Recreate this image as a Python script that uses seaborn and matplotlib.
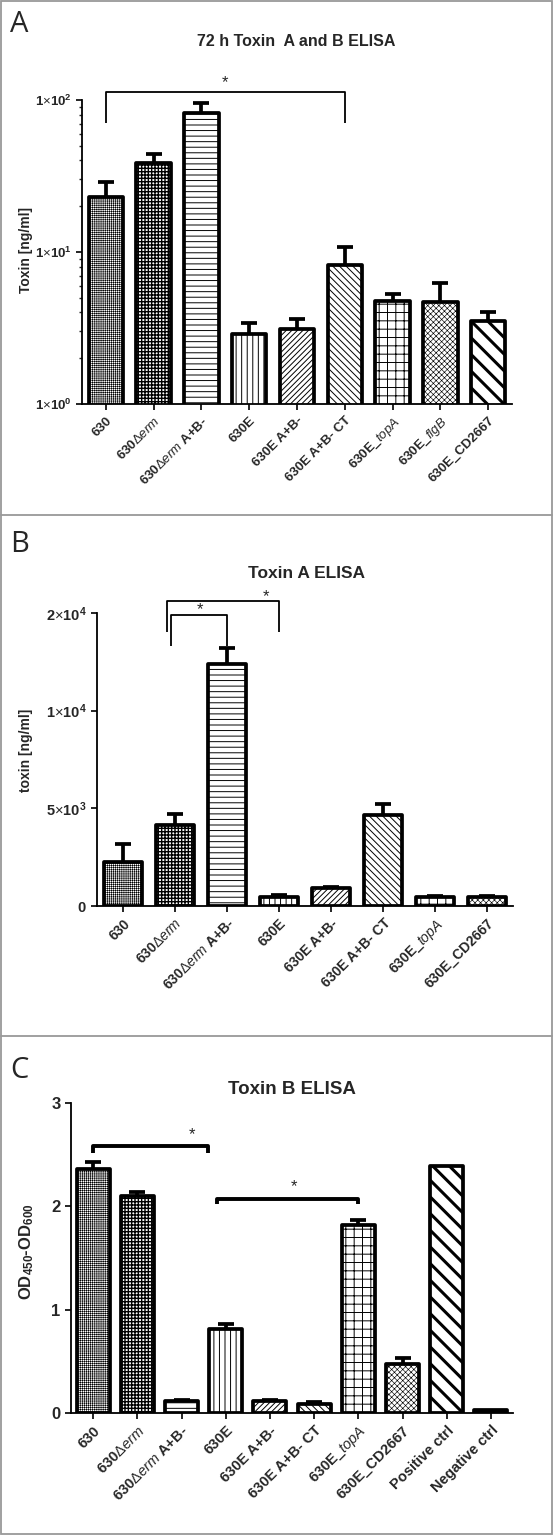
import numpy as np
import pandas as pd
import matplotlib
matplotlib.use("Agg")
import matplotlib.pyplot as plt
import seaborn as sns
from matplotlib.patches import Rectangle
from matplotlib.lines import Line2D
from matplotlib.ticker import NullFormatter, NullLocator

# ---------------- data ----------------
DERM = r"630$\Delta\mathit{erm}$"

strains_a = ["630", DERM, DERM + " A+B-", "630E", "630E A+B-", "630E A+B- CT",
             r"630E_$\mathit{topA}$", r"630E_$\mathit{flgB}$", "630E_CD2667"]
toxin_ab = [23.0, 38.5, 82.0, 2.88, 3.1, 8.2, 4.76, 4.7, 3.5]
toxin_ab_err = [5.8, 5.5, 13.0, 0.52, 0.5, 2.6, 0.54, 1.55, 0.5]
yticks_a = [1, 10, 100]
yticklabels_a = [r"$\mathbf{1}{\times}\mathbf{10^{0}}$",
                 r"$\mathbf{1}{\times}\mathbf{10^{1}}$",
                 r"$\mathbf{1}{\times}\mathbf{10^{2}}$"]

strains_b = ["630", DERM, DERM + " A+B-", "630E", "630E A+B-", "630E A+B- CT",
             r"630E_$\mathit{topA}$", "630E_CD2667"]
toxin_a = [2250, 4130, 14800, 460, 920, 4640, 460, 440]
toxin_a_err = [910, 560, 1630, 100, 30, 560, 60, 50]
yticks_b = [0, 5000, 10000, 20000]
yticklabels_b = [r"$\mathbf{0}$",
                 r"$\mathbf{5}{\times}\mathbf{10^{3}}$",
                 r"$\mathbf{1}{\times}\mathbf{10^{4}}$",
                 r"$\mathbf{2}{\times}\mathbf{10^{4}}$"]

strains_c = ["630", DERM, DERM + " A+B-", "630E", "630E A+B-", "630E A+B- CT",
             r"630E_$\mathit{topA}$", "630E_CD2667", "Positive ctrl", "Negative ctrl"]
toxin_b_od = [2.36, 2.10, 0.116, 0.81, 0.116, 0.09, 1.82, 0.47, 2.39, 0.03]
toxin_b_od_err = [0.07, 0.04, 0.012, 0.05, 0.01, 0.012, 0.05, 0.06, 0.0, 0.0]
yticks_c = [0, 1, 2, 3]
yticklabels_c = ["0", "1", "2", "3"]

# significance brackets: (x_left, x_right, y_bottom, y_top, star_x, star_y)
sig_a = [(0.0, 5.0, 70.6, 113.0, 2.5, 130.0)]
sig_b = [(0.93, 2.0, 16630, 19800, 1.48, 20300),
         (0.84, 3.0, 18060, 21220, 2.75, 21700)]
sig_c = [(0.0, 2.6, 2.52, 2.58, 2.24, 2.69),
         (2.8, 6.0, 2.02, 2.07, 4.55, 2.19)]

# ---------------- styles ----------------
hatch_a = ["++++++++", "+++++", "---", "|||", "//////", "\\\\\\\\\\", "++", "xxxxxx", "\\\\"]
hlw_a = [0.4, 1.0, 0.7, 0.7, 0.7, 0.7, 0.7, 0.45, 2.2]
hatch_b = ["++++++++", "+++++", "---", "|||", "//////", "\\\\\\\\\\", "++", "xxxxxx"]
hlw_b = [0.4, 1.0, 0.7, 0.7, 0.7, 0.7, 0.7, 0.45]
hatch_c = ["++++++++", "+++++", "---", "|||", "//////", "\\\\\\\\\\", "++", "xxxxxx", "\\\\", ""]
hlw_c = [0.4, 1.0, 0.7, 0.7, 0.7, 0.7, 0.7, 0.45, 2.2, 0.7]

sns.set_theme(style="ticks")
plt.rcParams["font.family"] = ["Liberation Sans", "DejaVu Sans"]
plt.rcParams["mathtext.fontset"] = "custom"
plt.rcParams["mathtext.rm"] = "Liberation Sans"
plt.rcParams["mathtext.bf"] = "Liberation Sans:bold"
plt.rcParams["mathtext.it"] = "Liberation Sans:italic"
plt.rcParams["hatch.linewidth"] = 0.7

W, H = 553, 1535
fig = plt.figure(figsize=(W / 100, H / 100), dpi=100)
fig.patch.set_facecolor("white")


def fx(px):
    return px / W


def fy(py):
    return 1 - py / H


def draw_bars(ax, cats, vals, errs, hatches, hlws, width, lw=2.7, cap=5.5):
    df = pd.DataFrame({"strain": cats, "value": vals})
    sns.barplot(data=df, x="strain", y="value", order=cats, color="white",
                saturation=1, edgecolor="black", linewidth=lw, width=width,
                errorbar=None, ax=ax, zorder=2)
    for p, h, hl in zip(ax.patches, hatches, hlws):
        p.set_hatch(h)
        p.set_joinstyle("round")
        if hasattr(p, "set_hatch_linewidth"):
            p.set_hatch_linewidth(hl)
    idx = [i for i, e in enumerate(errs) if e > 0]
    yv = np.array([vals[i] for i in idx], dtype=float)
    eb = ax.errorbar(idx, yv, yerr=[np.zeros(len(idx)), [errs[i] for i in idx]],
                     fmt="none", ecolor="black", elinewidth=lw, capsize=cap,
                     capthick=lw, zorder=1)
    for cl in eb[1]:
        if np.allclose(np.asarray(cl.get_ydata(), dtype=float), yv):
            cl.set_visible(False)
    n = len(cats)
    ax.set_xlim(-0.5, n - 0.5)
    ax.set_xlabel("")
    sns.despine(ax=ax)
    for s in ("left", "bottom"):
        ax.spines[s].set_linewidth(1.3)
        ax.spines[s].set_color("black")
    ax.tick_params(axis="both", direction="out", length=4, width=1.2, color="black")
    ax.tick_params(axis="y", which="minor", length=2.5, width=1.0)


def draw_sig(ax, sigs, lw, fs=12):
    for x0, x1, yb, yt, sx, sy in sigs:
        ax.plot([x0, x0, x1, x1], [yb, yt, yt, yb], color="black", lw=lw,
                clip_on=False, solid_joinstyle="round", solid_capstyle="butt")
        ax.text(sx, sy, "*", ha="center", va="center", fontsize=fs, clip_on=False)


# ---------------- Panel A ----------------
ax_a = fig.add_axes([fx(82), fy(404), 430 / W, 304 / H])
draw_bars(ax_a, strains_a, toxin_ab, toxin_ab_err, hatch_a, hlw_a, 0.72)
ax_a.set_yscale("log")
ax_a.set_ylim(1, 100)
ax_a.set_yticks(yticks_a, labels=yticklabels_a, fontsize=9.5)
ax_a.yaxis.set_minor_formatter(NullFormatter())
ax_a.set_xticks(range(len(strains_a)))
ax_a.set_xticklabels(strains_a, rotation=45, ha="right", rotation_mode="anchor",
                     fontsize=9.5, fontweight="bold")
ax_a.set_ylabel("Toxin [ng/ml]", fontsize=10, fontweight="bold")
ax_a.yaxis.set_label_coords(-0.115, 0.507)
draw_sig(ax_a, sig_a, 1.3)

# ---------------- Panel B ----------------
def fwd(y):
    y = np.asarray(y, dtype=float)
    return np.where(y <= 1e4, y, 1e4 + (y - 1e4) / 2)


def inv(f):
    f = np.asarray(f, dtype=float)
    return np.where(f <= 1e4, f, 1e4 + (f - 1e4) * 2)


ax_b = fig.add_axes([fx(97), fy(906), 416 / W, 293 / H])
draw_bars(ax_b, strains_b, toxin_a, toxin_a_err, hatch_b, hlw_b, 0.73)
ax_b.set_yscale("function", functions=(fwd, inv))
ax_b.set_ylim(0, 2e4)
ax_b.set_yticks(yticks_b, labels=yticklabels_b, fontsize=10.5)
ax_b.yaxis.set_minor_locator(NullLocator())
ax_b.set_xticks(range(len(strains_b)))
ax_b.set_xticklabels(strains_b, rotation=45, ha="right", rotation_mode="anchor",
                     fontsize=10, fontweight="bold")
ax_b.set_ylabel("toxin [ng/ml]", fontsize=10, fontweight="bold")
ax_b.yaxis.set_label_coords(-0.155, 0.532)
draw_sig(ax_b, sig_b, 1.3)

# ---------------- Panel C ----------------
ax_c = fig.add_axes([fx(71), fy(1413), 442 / W, 310 / H])
draw_bars(ax_c, strains_c, toxin_b_od, toxin_b_od_err, hatch_c, hlw_c, 0.75)
ax_c.patches[-1].set_facecolor("black")
ax_c.set_ylim(0, 3)
ax_c.set_yticks(yticks_c, labels=yticklabels_c, fontsize=12, fontweight="bold")
ax_c.set_xticks(range(len(strains_c)))
ax_c.set_xticklabels(strains_c, rotation=45, ha="right", rotation_mode="anchor",
                     fontsize=10.5, fontweight="bold")
ax_c.set_ylabel(r"OD$_{\mathbf{450}}$-OD$_{\mathbf{600}}$", fontsize=12, fontweight="bold")
ax_c.yaxis.set_label_coords(-0.08, 0.52)
draw_sig(ax_c, sig_c, 2.8)

# ---------------- titles, letters, frame ----------------
fig.text(fx(296), fy(42), "72 h Toxin  A and B ELISA", ha="center", va="center",
         fontsize=11.5, fontweight="bold")
fig.text(fx(306), fy(574), "Toxin A ELISA", ha="center", va="center",
         fontsize=12.5, fontweight="bold")
fig.text(fx(292), fy(1089), "Toxin B ELISA", ha="center", va="center",
         fontsize=13.5, fontweight="bold")
for letter, py in (("A", 25), ("B", 545), ("C", 1071)):
    fig.text(fx(10), fy(py), letter, ha="left", va="center", fontsize=21,
             family=["Open Sans", "DejaVu Sans"])

frame_col = "#999999"
fig.add_artist(Rectangle((fx(1), fy(1534)), 551 / W, 1533 / H, transform=fig.transFigure,
                         fill=False, edgecolor=frame_col, lw=1.3))
for py in (515, 1036):
    fig.add_artist(Line2D([fx(1), fx(552)], [fy(py), fy(py)], transform=fig.transFigure,
                          color=frame_col, lw=1.3))

fig.savefig("out.png", dpi=100)
